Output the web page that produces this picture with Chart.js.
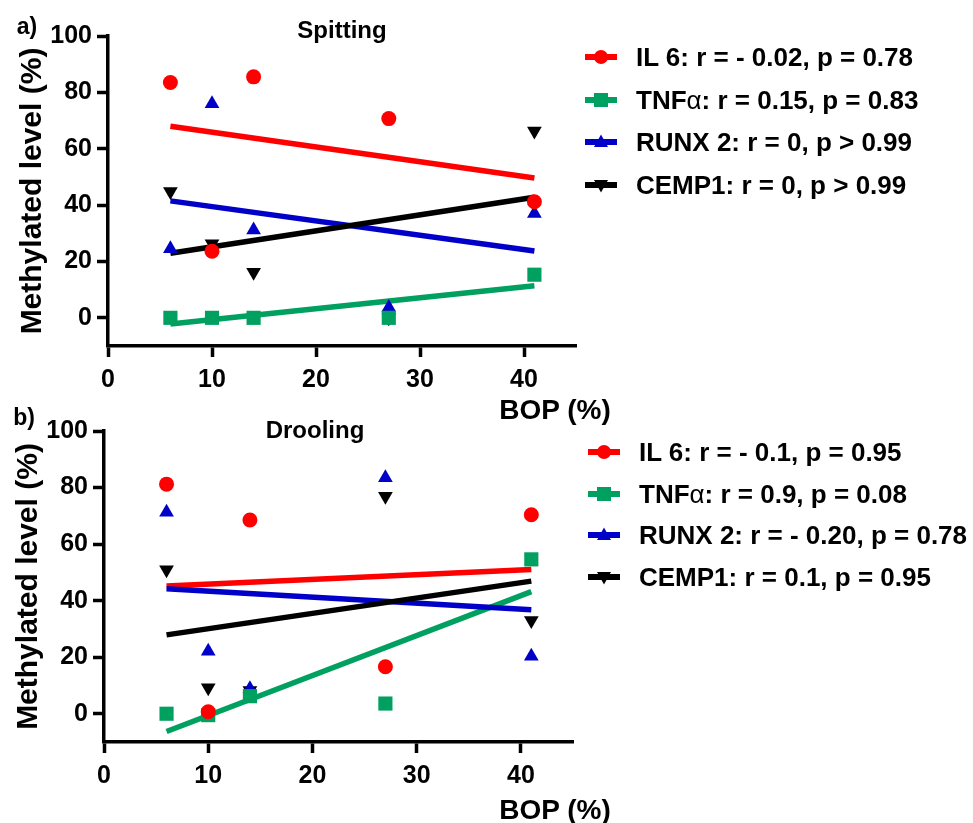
<!DOCTYPE html>
<html>
<head>
<meta charset="utf-8">
<script src="https://cdn.jsdelivr.net/npm/chart.js@4.4.0/dist/chart.umd.min.js"></script>
<style>
  html, body { margin:0; padding:0; background:#fff; }
  body { width:973px; height:823px; position:relative; overflow:hidden; font-family:"Liberation Sans", Arial, sans-serif; }
  canvas { position:absolute; left:0; }
  .t { position:absolute; font-weight:bold; color:#000; line-height:1; white-space:nowrap; transform:translate(-50%,-50%); }
  .leg { position:absolute; font-weight:bold; font-size:26px; line-height:1; white-space:nowrap; transform:translateY(-50%); display:flex; align-items:center; }
  .leg svg { margin-right:19px; }
  .alpha { font-weight:normal; }
</style>
</head>
<body>
<canvas id="ca" width="973" height="410" style="top:0"></canvas>
<canvas id="cb" width="973" height="413" style="top:410px"></canvas>

<div class="t" style="left:27px; top:26px; font-size:23px;">a)</div>
<div class="t" style="left:342px; top:30px; font-size:24px;">Spitting</div>
<div class="t" style="left:555px; top:410px; font-size:28px;">BOP (%)</div>

<div class="t" style="left:24px; top:417px; font-size:23px;">b)</div>
<div class="t" style="left:315px; top:430px; font-size:24px;">Drooling</div>
<div class="t" style="left:555px; top:810px; font-size:28px;">BOP (%)</div>

<div id="legA"></div>
<div id="legB"></div>

<script>
// ---- data ----
const bop = [6, 10, 14, 27, 41];
const xTicks = [0, 10, 20, 30, 40];
const yTicks = [0, 20, 40, 60, 80, 100];
const fitX = [6, 41];

const seriesNames = ["IL 6", "TNF\u03b1", "RUNX 2", "CEMP1"];

// a) Spitting
const il6A  = [83.5, 23.6, 85.5, 70.7, 41.2];
const tnfA  = [0, 0, 0, 0, 15.3];
const runxA = [24.5, 76, 31.2, 3.7, 37];
const cempA = [44.8, 26.3, 16.2, 0, 66.3];
const il6FitA  = [68, 49.6];
const tnfFitA  = [-2.2, 11.4];
const runxFitA = [41.5, 23.7];
const cempFitA = [22.9, 42.8];
const statsA = ["r = - 0.02, p = 0.78", "r = 0.15, p = 0.83", "r = 0, p > 0.99", "r = 0, p > 0.99"];

// b) Drooling
const il6B  = [81.2, 0.7, 68.5, 16.6, 70.4];
const tnfB  = [0, -0.5, 6.2, 3.6, 54.6];
const runxB = [71.3, 22.1, 8.8, 83.5, 20.3];
const cempB = [50.9, 9.2, 8.2, 76.9, 33];
const il6FitB  = [45.2, 51];
const tnfFitB  = [-6.3, 43.2];
const runxFitB = [44.2, 36.8];
const cempFitB = [27.9, 46.9];
const statsB = ["r = - 0.1, p = 0.95", "r = 0.9, p = 0.08", "r = - 0.20, p = 0.78", "r = 0.1, p = 0.95"];

// ---- styling ----
const colors = ["#ff0000", "#00a060", "#0000c8", "#000000"];
const styles = [
  {pointStyle:"circle", radius:7.5, rotation:0},
  {pointStyle:"rect", radius:10, rotation:0},
  {pointStyle:"triangle", radius:8.5, rotation:0},
  {pointStyle:"triangle", radius:8.5, rotation:180}
];
const FONT = "'Liberation Sans', Arial, sans-serif";

function pts(xs, ys) { return xs.map((x, i) => ({x: x, y: ys[i]})); }

function makeChart(id, series, fits, geo) {
  const datasets = [];
  series.forEach((ys, i) => {
    datasets.push({
      data: pts(bop, ys),
      backgroundColor: colors[i],
      borderColor: colors[i],
      pointStyle: styles[i].pointStyle,
      pointRadius: styles[i].radius,
      pointRotation: styles[i].rotation,
      pointBorderWidth: 0,
      showLine: false,
      order: i
    });
  });
  fits.forEach((ys, i) => {
    datasets.push({
      data: pts(fitX, ys),
      borderColor: colors[i],
      backgroundColor: colors[i],
      borderWidth: 5.5,
      pointRadius: 0,
      showLine: true,
      order: 10 + (3 - i)
    });
  });
  const tickFont = {family: FONT, size: 25, weight: "bold"};
  return new Chart(document.getElementById(id), {
    type: "scatter",
    data: {datasets},
    options: {
      responsive: false,
      animation: false,
      devicePixelRatio: 1,
      layout: {padding: {left: 0, top: geo.top, right: geo.right, bottom: 0}},
      plugins: {legend: {display: false}, tooltip: {enabled: false}, title: {display: false}},
      scales: {
        x: {
          type: "linear", min: 0, max: 45,
          afterBuildTicks: s => { s.ticks = xTicks.map(v => ({value: v})); },
          afterFit: s => { s.height = geo.xh; },
          grid: {drawOnChartArea: false, drawTicks: true, tickLength: 11, tickWidth: 3.5, tickColor: "#000"},
          border: {display: true, color: "#000", width: 3.5},
          ticks: {color: "#000", font: tickFont, padding: 8, maxRotation: 0, autoSkip: false}
        },
        y: {
          type: "linear", min: -10, max: 100,
          afterBuildTicks: s => { s.ticks = yTicks.map(v => ({value: v})); },
          afterFit: s => { s.width = geo.yw; },
          grid: {drawOnChartArea: false, drawTicks: true, tickLength: 11, tickWidth: 3.5, tickColor: "#000"},
          border: {display: true, color: "#000", width: 3.5},
          ticks: {color: "#000", font: tickFont, padding: 5, autoSkip: false},
          title: {display: true, text: "Methylated level (%)", color: "#000",
                  font: {family: FONT, size: 30, weight: "bold"}, padding: {top: geo.tp, bottom: 0}}
        }
      }
    }
  });
}

makeChart("ca", [il6A, tnfA, runxA, cempA], [il6FitA, tnfFitA, runxFitA, cempFitA],
          {top: 36, right: 973 - 576, xh: 410 - 346, yw: 108, tp: 15});
makeChart("cb", [il6B, tnfB, runxB, cempB], [il6FitB, tnfFitB, runxFitB, cempFitB],
          {top: 21, right: 973 - 573, xh: 413 - 332, yw: 104, tp: 11});

// ---- legends ----
function icon(i) {
  const c = colors[i];
  let m;
  if (i === 0) m = `<circle cx="16" cy="10" r="7" fill="${c}"/>`;
  else if (i === 1) m = `<rect x="9" y="3" width="14" height="14" fill="${c}"/>`;
  else if (i === 2) m = `<polygon points="16,2.5 23,15 9,15" fill="${c}"/>`;
  else m = `<polygon points="16,17.5 23,5 9,5" fill="${c}"/>`;
  return `<svg width="32" height="20" viewBox="0 0 32 20"><rect x="0" y="7" width="32" height="6" fill="${c}"/>${m}</svg>`;
}
function buildLegend(elId, stats, left, rows) {
  const el = document.getElementById(elId);
  stats.forEach((s, i) => {
    const d = document.createElement("div");
    d.className = "leg";
    d.style.left = left + "px";
    d.style.top = rows[i] + "px";
    const name = seriesNames[i].replace("\u03b1", '<span class="alpha">\u03b1</span>');
    d.innerHTML = icon(i) + `<span>${name}: ${s}</span>`;
    el.appendChild(d);
  });
}
buildLegend("legA", statsA, 585, [57, 100, 142, 185]);
buildLegend("legB", statsB, 588, [452, 494, 535, 577]);
</script>
</body>
</html>
